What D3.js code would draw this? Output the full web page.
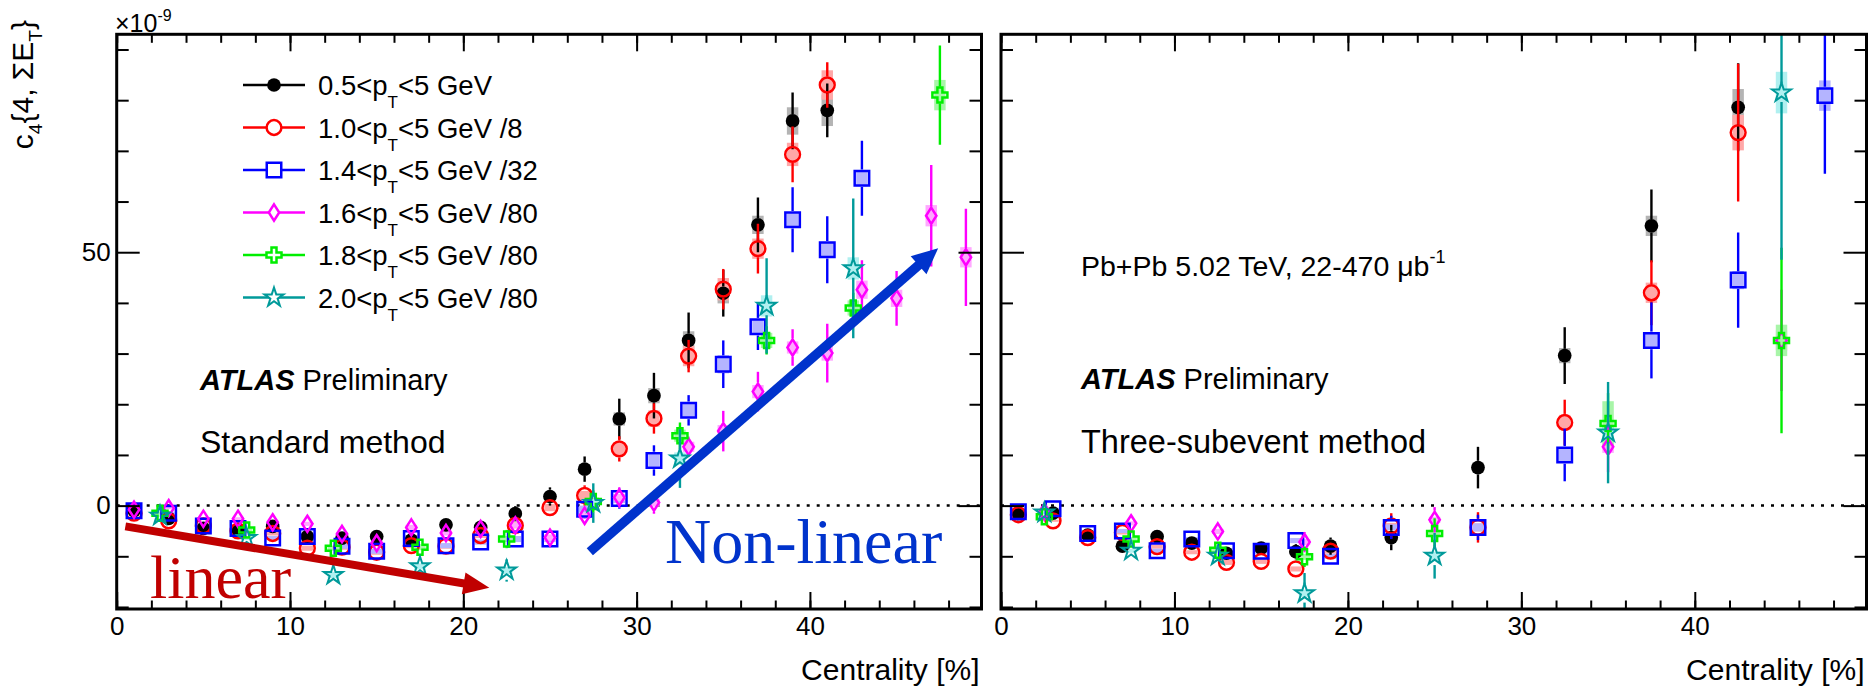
<!DOCTYPE html>
<html>
<head>
<meta charset="utf-8">
<script src="https://cdn.jsdelivr.net/npm/d3@7"></script>
<style>
  body { margin: 0; background: #fff; }
  svg text { font-family: "Liberation Sans", Arial, Helvetica, sans-serif; }
</style>
</head>
<body>
<svg id="chart" width="1868" height="689"></svg>
<script>
// centrality bins [%]
var binsA = [1,3,5,7,9,11,13,15,17,19,21,23,25,27,29,31,33,35,37,39,41,43,45,47,49];
var binsB = [2.5,7.5,12.5,17.5,22.5,27.5,32.5,37.5,42.5,47.5];
var binsC = [1,3,5,7,9,11,13,15,17,19,22.5,27.5,32.5,37.5,42.5,47.5];
var binsD = [2.5,7.5,12.5,17.5,25,35,45];

// legend / series
var ptMin = ["0.5","1.0","1.4","1.6","1.8","2.0"];
var scaleDiv = [""," /8"," /32"," /80"," /80"," /80"];
var seriesColors = ["#000000","#ff0000","#0000ff","#ff00ff","#00ee00","#009a9a"];
var sysColors = ["#b4b4b4","#ffa8a8","#b4b4ff","#ffa8ff","#a8f5a8","#b0f0f0"];
var markerShapes = ["dot","circle","square","diamond","cross","star"];

// standard method (x 1e-9)
var std05 = [-1.0,-2.5,-4.5,-4.8,-4.1,-6.1,-6.4,-6.1,-6.8,-3.8,-4.3,-1.6,1.8,7.2,17.1,21.7,32.6,41.9,55.4,75.9,78.0];
var std05Err = [0.3,0.3,0.4,0.4,0.5,0.5,0.6,0.7,0.8,0.9,1.0,1.5,1.8,2.5,4.0,4.5,5.5,4.6,5.4,5.6,5.3];
var std05Sys = [0.2,0.2,0.3,0.3,0.3,0.4,0.4,0.4,0.5,0.5,0.5,0.6,0.7,0.9,1.3,1.5,1.8,2.0,1.8,2.7,3.1];

var std10 = [-1.5,-3.0,-4.0,-5.0,-5.5,-8.4,-8.2,-9.2,-7.9,-8.0,-5.9,-3.9,-0.4,2.0,11.2,17.2,29.5,42.7,50.7,69.3,83.0];
var std10Err = [0.3,0.3,0.4,0.5,0.5,0.6,0.7,0.8,0.9,1.0,1.1,1.4,1.6,2.0,2.5,3.0,3.2,4.0,4.9,5.5,4.5];
var std10Sys = [0.2,0.2,0.3,0.3,0.4,0.5,0.5,0.5,0.5,0.5,0.5,0.6,0.7,0.9,1.3,1.6,2.0,2.2,2.0,2.3,2.9];

var std14 = [-1.0,-1.5,-4.0,-4.5,-6.4,-6.1,-8.0,-9.0,-6.5,-7.9,-7.2,-6.6,-6.6,-0.7,1.4,8.9,18.8,27.9,35.3,56.4,50.5,64.6];
var std14Err = [0.3,0.4,0.5,0.6,0.7,0.8,0.9,1.0,1.1,1.2,1.3,1.5,1.6,1.8,2.0,3.0,3.0,4.7,4.6,6.4,6.6,7.4];
var std14Sys = [0.2,0.2,0.3,0.3,0.4,0.4,0.5,0.5,0.5,0.5,0.5,0.6,0.6,0.7,0.9,1.2,1.4,1.8,1.5,1.3,1.4,1.6];

var std16 = [-0.8,-0.5,-2.6,-2.6,-3.3,-3.6,-5.6,-7.4,-4.3,-5.4,-4.6,-3.9,-6.3,-2.0,1.6,0.6,11.6,14.7,22.5,31.2,30.1,42.6,40.9,57.2,49.0];
var std16Err = [0.3,0.4,0.5,0.6,0.7,0.8,0.9,1.0,1.1,1.2,1.3,1.4,1.6,1.8,2.0,2.2,2.0,4.0,3.9,3.6,5.8,5.8,5.4,10.0,9.6];
var std16Sys = [0.2,0.2,0.3,0.3,0.3,0.4,0.4,0.5,0.5,0.5,0.5,0.5,0.6,0.6,0.7,0.8,1.0,1.2,1.3,1.2,1.5,1.8,1.7,2.1,2.0];

var std18 = [-1.5,-4.8,-8.4,-8.2,-6.6,0.8,13.8,32.6,39.0,81.0];
var std18Err = [0.5,0.8,1.2,1.5,1.8,2.2,2.6,2.8,3.0,9.8];
var std18Sys = [0.3,0.4,0.5,0.6,0.6,0.8,1.2,1.5,1.5,3.0];

var std20 = [-2.0,-6.4,-13.7,-12.0,-12.8,0.5,9.3,39.4,46.8];
var std20Err = [0.6,1.0,1.4,1.8,2.2,3.9,5.8,9.4,13.8];
var std20Sys = [0.3,0.4,0.6,0.6,0.7,0.8,1.2,2.1,2.2];

// three-subevent method (x 1e-9)
var sub05 = [-1.6,-1.5,-5.8,-8.0,-6.1,-7.4,-9.4,-8.4,-9.1,-8.0,-6.3,7.5,29.6,55.2,78.6];
var sub05Err = [0.3,0.4,0.6,0.8,0.9,1.0,1.2,1.3,1.5,1.7,2.5,4.1,5.6,7.2,8.7];
var sub05Sys = [0.2,0.2,0.3,0.4,0.4,0.4,0.5,0.5,0.5,0.5,0.6,1.0,1.5,2.0,3.6];

var sub10 = [-1.8,-3.0,-6.3,-5.3,-8.1,-9.2,-11.2,-11.0,-12.5,-9.0,-4.0,-4.3,16.4,42.0,73.6];
var sub10Err = [0.3,0.4,0.6,0.8,0.9,1.0,1.2,1.3,1.5,1.7,2.5,3.0,4.5,6.4,13.6];
var sub10Sys = [0.2,0.2,0.3,0.4,0.4,0.4,0.5,0.5,0.5,0.5,0.6,0.8,1.5,2.0,3.5];

var sub14 = [-1.2,-0.6,-5.5,-5.0,-8.9,-6.6,-8.9,-9.0,-6.9,-10.0,-4.3,-4.3,10.0,32.6,44.5,80.9];
var sub14Err = [0.3,0.4,0.6,0.8,0.9,1.0,1.2,1.3,1.5,1.7,2.3,2.5,5.2,7.5,9.4,15.4];
var sub14Sys = [0.2,0.2,0.3,0.4,0.4,0.4,0.5,0.5,0.5,0.5,0.6,0.8,1.2,1.5,1.8,3.0];

var sub16 = [-1.2,-3.5,-5.1,-7.2,-2.8,11.6,32.6];
var sub16Err = [0.6,1.0,1.4,2.0,2.5,5.0,10.0];
var sub16Sys = [0.3,0.4,0.5,0.6,0.6,1.2,2.0];

var sub18 = [-2.2,-6.6,-8.8,-10.1,-5.5,16.2,32.6];
var sub18Err = [0.6,1.0,1.5,2.0,3.0,6.0,18.3];
var sub18Sys = [0.3,0.4,0.5,0.6,0.7,4.4,3.1];

var sub20 = [-1.4,-8.9,-9.9,-17.3,-9.9,14.4,81.5];
var sub20Err = [0.6,1.2,1.8,4.0,4.5,10.0,33.0];
var sub20Sys = [0.3,0.4,0.5,0.7,0.8,1.5,4.1];

// annotation arrows, in data units
var linearArrow = [[0.5,-4.1],[21.5,-16.2]];
var nonLinearArrow = [[27.3,-9.1],[47.4,50.8]];

var stdSeries = [
  {bins: binsA, y: std05, err: std05Err, sys: std05Sys},
  {bins: binsA, y: std10, err: std10Err, sys: std10Sys},
  {bins: binsA, y: std14, err: std14Err, sys: std14Sys},
  {bins: binsA, y: std16, err: std16Err, sys: std16Sys},
  {bins: binsB, y: std18, err: std18Err, sys: std18Sys},
  {bins: binsB, y: std20, err: std20Err, sys: std20Sys}
];
var subSeries = [
  {bins: binsC, y: sub05, err: sub05Err, sys: sub05Sys},
  {bins: binsC, y: sub10, err: sub10Err, sys: sub10Sys},
  {bins: binsC, y: sub14, err: sub14Err, sys: sub14Sys},
  {bins: binsD, y: sub16, err: sub16Err, sys: sub16Sys},
  {bins: binsD, y: sub18, err: sub18Err, sys: sub18Sys},
  {bins: binsD, y: sub20, err: sub20Err, sys: sub20Sys}
];

var svg = d3.select("#chart");
var plotTop = 34.3, plotBottom = 609;
var serif = "'Liberation Serif', 'Times New Roman', serif";

var yScale = d3.scaleLinear().domain([-20.4, 93.0]).range([plotBottom, plotTop]);

// marker paths centred on 0,0
var markerHalf = {dot: 6.8, circle: 8.6, square: 8.8, diamond: 9.2, cross: 8.3, star: 9.3};
function markerPath(shape) {
  if (shape == "dot") return d3.symbol(d3.symbolCircle, 148)();
  if (shape == "circle") return d3.symbol(d3.symbolCircle, 172)();
  if (shape == "square") return d3.symbol(d3.symbolSquare, 210)();
  if (shape == "diamond") return "M0,-8.1L5.2,0L0,8.1L-5.2,0Z";
  if (shape == "cross") return d3.symbol(d3.symbolCross, 125)();
  return d3.symbol(d3.symbolStar, 112)();
}
function styleMarker(sel, i, fill) {
  var shape = markerShapes[i];
  sel.attr("d", markerPath(shape))
    .attr("fill", shape == "dot" ? seriesColors[i] : fill)
    .attr("stroke", seriesColors[i])
    .attr("stroke-width", shape == "star" ? 2 : (shape == "dot" ? 0 : 2.5));
}

function drawPanel(x0, x1, series, id) {
  var xScale = d3.scaleLinear().domain([0, 49.9]).range([x0, x1]);
  var g = svg.append("g");

  g.append("clipPath").attr("id", id)
    .append("rect").attr("x", x0).attr("y", plotTop).attr("width", x1 - x0).attr("height", plotBottom - plotTop);

  var plot = g.append("g").attr("clip-path", "url(#" + id + ")");

  // dotted zero line
  plot.append("line")
    .attr("x1", x0).attr("x2", x1)
    .attr("y1", yScale(0)).attr("y2", yScale(0))
    .attr("stroke", "#000").attr("stroke-width", 2.5)
    .attr("stroke-dasharray", "3,7");

  // systematic boxes
  series.forEach(function(s, i) {
    plot.selectAll(".sys" + i)
      .data(s.y)
      .enter().append("rect")
      .attr("x", function(d, j) { return xScale(s.bins[j] - 0.33); })
      .attr("width", xScale(0.66) - xScale(0))
      .attr("y", function(d, j) { return yScale(d + s.sys[j]); })
      .attr("height", function(d, j) { return yScale(d - s.sys[j]) - yScale(d + s.sys[j]); })
      .attr("fill", sysColors[i]);
  });

  // stat errors (gap around marker) and markers
  series.forEach(function(s, i) {
    var half = markerHalf[markerShapes[i]];
    var pts = s.y.map(function(d, j) { return {x: s.bins[j], y: d, e: s.err[j]}; });
    var eg = plot.append("g").attr("stroke", seriesColors[i]).attr("stroke-width", 2.4);
    pts.forEach(function(p) {
      var cx = xScale(p.x), cy = yScale(p.y);
      var yt = yScale(p.y + p.e), yb = yScale(p.y - p.e);
      if (cy - half > yt) eg.append("line").attr("x1", cx).attr("x2", cx).attr("y1", yt).attr("y2", cy - half);
      if (cy + half < yb) eg.append("line").attr("x1", cx).attr("x2", cx).attr("y1", cy + half).attr("y2", yb);
    });
    plot.selectAll(".mk" + i)
      .data(pts)
      .enter().append("path")
      .attr("transform", function(p) { return "translate(" + xScale(p.x) + "," + yScale(p.y) + ")"; })
      .call(styleMarker, i, "none");
  });

  // axes: ticks inward on all four sides
  var minorX = d3.range(0, 50, 2), majorX = [0, 10, 20, 30, 40];
  var minorY = [-20, -10, 10, 20, 30, 40, 60, 70, 80, 90], majorY = [0, 50];
  var axes = [
    g.append("g").attr("transform", "translate(0," + plotBottom + ")").call(d3.axisBottom(xScale).tickValues(minorX).tickSize(-8.5).tickFormat("")),
    g.append("g").attr("transform", "translate(0," + plotBottom + ")").call(d3.axisBottom(xScale).tickValues(majorX).tickSize(-17).tickPadding(8)),
    g.append("g").attr("transform", "translate(0," + plotTop + ")").call(d3.axisTop(xScale).tickValues(minorX).tickSize(-8.5).tickFormat("")),
    g.append("g").attr("transform", "translate(0," + plotTop + ")").call(d3.axisTop(xScale).tickValues(majorX).tickSize(-17).tickFormat("")),
    g.append("g").attr("transform", "translate(" + x0 + ",0)").call(d3.axisLeft(yScale).tickValues(minorY).tickSize(-12).tickFormat("")),
    g.append("g").attr("transform", "translate(" + x0 + ",0)").call(d3.axisLeft(yScale).tickValues(majorY).tickSize(-23).tickPadding(6).tickFormat(id == "clipL" ? d3.format("d") : "")),
    g.append("g").attr("transform", "translate(" + x1 + ",0)").call(d3.axisRight(yScale).tickValues(minorY).tickSize(-12).tickFormat("")),
    g.append("g").attr("transform", "translate(" + x1 + ",0)").call(d3.axisRight(yScale).tickValues(majorY).tickSize(-23).tickFormat(""))
  ];
  axes.forEach(function(a) {
    a.select(".domain").remove();
    a.selectAll("line").attr("stroke-width", 2);
    a.attr("font-size", 26).attr("font-family", null);
    a.selectAll("text").attr("fill", "#000");
  });

  g.append("rect")
    .attr("x", x0).attr("y", plotTop).attr("width", x1 - x0).attr("height", plotBottom - plotTop)
    .attr("fill", "none").attr("stroke", "#000").attr("stroke-width", 3);

  g.append("text")
    .attr("x", x1 - 2).attr("y", 680)
    .attr("text-anchor", "end").attr("font-size", 30)
    .text("Centrality [%]");

  return xScale;
}

function drawArrow(xScale, pts, color, width, headLen, headHalf) {
  var ax = xScale(pts[0][0]), ay = yScale(pts[0][1]);
  var bx = xScale(pts[1][0]), by = yScale(pts[1][1]);
  var len = Math.hypot(bx - ax, by - ay), ux = (bx - ax) / len, uy = (by - ay) / len;
  var sx = bx - ux * headLen, sy = by - uy * headLen;
  svg.append("line")
    .attr("x1", ax).attr("y1", ay).attr("x2", sx + ux * 2).attr("y2", sy + uy * 2)
    .attr("stroke", color).attr("stroke-width", width);
  svg.append("path")
    .attr("d", "M" + bx + "," + by + "L" + (sx - uy * headHalf) + "," + (sy + ux * headHalf) +
      "L" + (sx + uy * headHalf) + "," + (sy - ux * headHalf) + "Z")
    .attr("fill", color);
}

var xL = drawPanel(116.7, 981.5, stdSeries, "clipL");
var xR = drawPanel(1001, 1866.5, subSeries, "clipR");

// y title
var yt = svg.append("text")
  .attr("transform", "translate(33,20) rotate(-90)")
  .attr("text-anchor", "end").attr("font-size", 30);
yt.append("tspan").text("c");
yt.append("tspan").attr("dy", 9).attr("font-size", 19).text("4");
yt.append("tspan").attr("dy", -9).text("{4, \u03a3E");
yt.append("tspan").attr("dy", 9).attr("font-size", 19).text("T");
yt.append("tspan").attr("dy", -9).text("}");

// exponent
var ex = svg.append("text").attr("x", 115).attr("y", 32).attr("font-size", 25);
ex.append("tspan").text("\u00d710");
ex.append("tspan").attr("dy", -11).attr("font-size", 16).text("-9");

// legend
ptMin.forEach(function(p, i) {
  var cy = 85 + i * 42.5;
  svg.append("line").attr("x1", 243).attr("x2", 305).attr("y1", cy).attr("y2", cy)
    .attr("stroke", seriesColors[i]).attr("stroke-width", 2.5);
  svg.append("path").attr("transform", "translate(274," + cy + ")").call(styleMarker, i, "#fff");
  var t = svg.append("text").attr("x", 318).attr("y", cy + 10).attr("font-size", 27.5);
  t.append("tspan").text(p + "<p");
  t.append("tspan").attr("dy", 13).attr("font-size", 17).text("T");
  t.append("tspan").attr("dy", -13).text("<5 GeV" + scaleDiv[i]);
});

// labels
function atlas(x, y) {
  var t = svg.append("text").attr("x", x).attr("y", y).attr("font-size", 29);
  t.append("tspan").attr("font-weight", "bold").attr("font-style", "italic").text("ATLAS");
  t.append("tspan").text(" Preliminary");
}
atlas(200, 390);
atlas(1081, 389);
svg.append("text").attr("x", 200).attr("y", 453).attr("font-size", 32).text("Standard method");
svg.append("text").attr("x", 1081).attr("y", 453).attr("font-size", 32.5).text("Three-subevent method");
var pb = svg.append("text").attr("x", 1081).attr("y", 276).attr("font-size", 28.5);
pb.append("tspan").text("Pb+Pb 5.02 TeV, 22-470 \u03bcb");
pb.append("tspan").attr("dy", -13).attr("font-size", 18).text("-1");

// annotations
drawArrow(xL, linearArrow, "#c00000", 8, 26, 11);
drawArrow(xL, nonLinearArrow, "#0033cc", 9.5, 26, 12);
svg.append("text").attr("x", 150).attr("y", 598)
  .style("font-family", serif).attr("font-size", 62)
  .attr("fill", "#c00000").text("linear");
svg.append("text").attr("x", 665).attr("y", 563)
  .style("font-family", serif).attr("font-size", 64)
  .attr("fill", "#0033cc").text("Non-linear");
</script>
</body>
</html>
